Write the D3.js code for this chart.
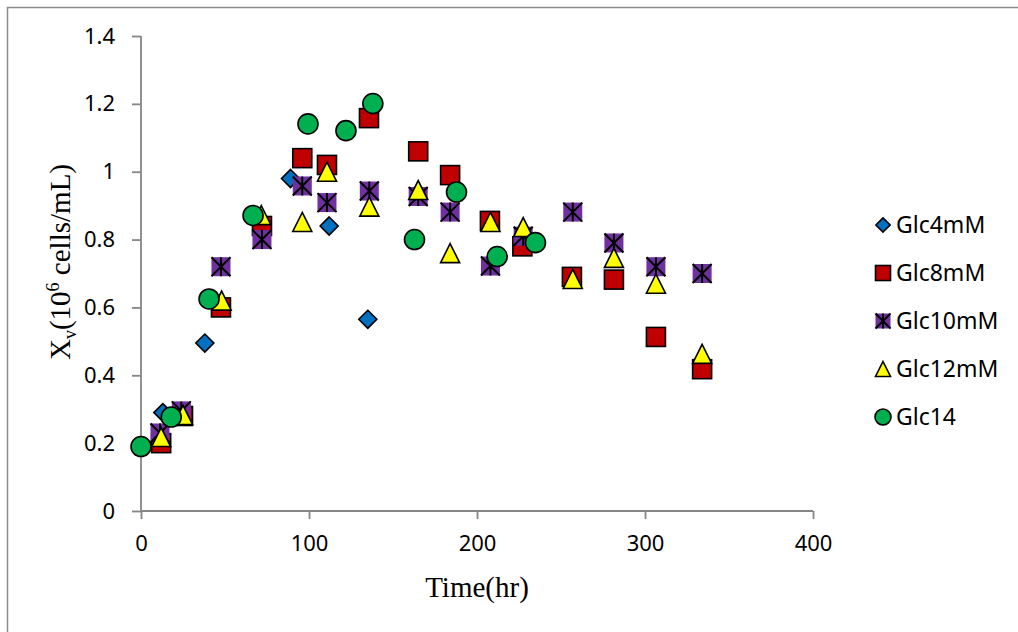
<!DOCTYPE html>
<html>
<head>
<meta charset="utf-8">
<script src="https://cdn.jsdelivr.net/npm/d3@7"></script>
<style>
    body { margin: 0; background: #fff; }
    svg { display: block; }
    .tick text { font-family: "Noto Sans", "Open Sans", sans-serif; font-size: 22px; fill: #000; }
    .legend text { font-family: "Noto Sans", "Open Sans", sans-serif; font-size: 23px; fill: #000; }
    .title { font-family: "Liberation Serif", "Times New Roman", serif; font-size: 29px; fill: #000; }
</style>
</head>
<body>
<div id="chart"></div>
<script>
// series names + marker look
var seriesNames = ["Glc4mM", "Glc8mM", "Glc10mM", "Glc12mM", "Glc14"];
var seriesShapes = ["diamond", "square", "star", "triangle", "circle"];
var seriesColors = ["#0070C0", "#C00000", "#7030A0", "#FFFF00", "#00B050"];

// time (hr) / Xv (10^6 cells/mL)
var glc4Time = [13, 38, 89, 112, 135];
var glc4Xv = [0.29, 0.495, 0.98, 0.84, 0.565];

var glc8Time = [12, 25, 47.6, 72, 96, 110.7, 135.7, 165, 184, 207.7, 227, 256.5, 281.5, 306.5, 334];
var glc8Xv = [0.20, 0.28, 0.60, 0.84, 1.04, 1.02, 1.158, 1.06, 0.99, 0.855, 0.78, 0.69, 0.682, 0.513, 0.418];

var glc10Time = [11.3, 24, 47.6, 72, 96, 110.7, 135.9, 165, 184, 208, 227.5, 257, 281.5, 306.5, 334];
var glc10Xv = [0.23, 0.295, 0.72, 0.80, 0.958, 0.909, 0.943, 0.927, 0.881, 0.722, 0.81, 0.881, 0.79, 0.72, 0.70];

var glc12Time = [12, 25, 48, 71.6, 96, 110.7, 135.9, 165, 184, 208, 227.5, 257, 281.5, 306.5, 334];
var glc12Xv = [0.218, 0.283, 0.62, 0.872, 0.852, 1.0, 0.897, 0.946, 0.76, 0.852, 0.837, 0.684, 0.746, 0.67, 0.463];

var glc14Time = [0, 18, 40.5, 66.7, 99.4, 122, 138, 162.8, 187.8, 212, 234.8];
var glc14Xv = [0.19, 0.277, 0.625, 0.871, 1.141, 1.121, 1.201, 0.80, 0.94, 0.75, 0.791];

var xTicks = [0, 100, 200, 300, 400];
var yTicks = [0, 0.2, 0.4, 0.6, 0.8, 1, 1.2, 1.4];

var seriesTime = [glc4Time, glc8Time, glc10Time, glc12Time, glc14Time];
var seriesXv = [glc4Xv, glc8Xv, glc10Xv, glc12Xv, glc14Xv];

var W = 1018, H = 632;
var plot = { left: 141, right: 813, top: 36, bottom: 511 };
var axisColor = "#868686";

var svg = d3.select("#chart").append("svg").attr("width", W).attr("height", H);

// outer frame (only left and top edges are in the picture)
svg.append("path")
    .attr("d", "M7.5," + H + "V7.5H" + W)
    .attr("fill", "none").attr("stroke", "#8c8c8c").attr("stroke-width", 1.5);

var x = d3.scaleLinear().domain([0, 400]).range([plot.left, plot.right]);
var y = d3.scaleLinear().domain([0, 1.4]).range([plot.bottom, plot.top]);

function fmtY(d) {
    return d === 0 ? "0" : String(+d.toFixed(1));
}

var gx = svg.append("g")
    .attr("transform", "translate(0," + plot.bottom + ")")
    .call(d3.axisBottom(x).tickValues(xTicks).tickSize(8).tickPadding(16).tickFormat(d3.format("d")));
var gy = svg.append("g")
    .attr("transform", "translate(" + plot.left + ",0)")
    .call(d3.axisLeft(y).tickValues(yTicks).tickSize(9).tickPadding(17).tickFormat(fmtY));

[gx, gy].forEach(function (g) {
    g.select(".domain").attr("stroke", axisColor).attr("stroke-width", 1.8);
    g.selectAll(".tick line").attr("stroke", axisColor).attr("stroke-width", 1.8);
});
// no outer tick stubs on the domain ends
gx.select(".domain").attr("d", "M" + plot.left + ",0H" + plot.right);
gy.select(".domain").attr("d", "M0," + plot.bottom + "V" + plot.top);

// marker drawing
function drawMarker(g, shape, color, s) {
    var h = s / 2;
    var sw = 1.6;
    if (shape === "square") {
        g.append("rect").attr("x", -h).attr("y", -h).attr("width", s).attr("height", s)
            .attr("fill", color).attr("stroke", "#000").attr("stroke-width", sw);
    } else if (shape === "diamond") {
        var d = h * 0.95;
        g.append("path").attr("d", "M0," + (-d) + "L" + d + ",0L0," + d + "L" + (-d) + ",0Z")
            .attr("fill", color).attr("stroke", "#000").attr("stroke-width", sw);
    } else if (shape === "triangle") {
        g.append("path").attr("d", "M0," + (-h) + "L" + h + "," + h + "L" + (-h) + "," + h + "Z")
            .attr("fill", color).attr("stroke", "#000").attr("stroke-width", sw).attr("stroke-linejoin", "miter");
    } else if (shape === "circle") {
        g.append("circle").attr("r", h + 0.5)
            .attr("fill", color).attr("stroke", "#000").attr("stroke-width", sw);
    } else if (shape === "star") {
        g.append("rect").attr("x", -h).attr("y", -h).attr("width", s).attr("height", s)
            .attr("fill", color).attr("stroke", "none");
        g.append("path").attr("d", "M0," + (-h) + "V" + h + "M" + (-h) + "," + (-h) + "L" + h + "," + h + "M" + h + "," + (-h) + "L" + (-h) + "," + h)
            .attr("stroke", "#000").attr("stroke-width", 2).attr("fill", "none");
    }
}

var markSize = 19;
seriesNames.forEach(function (name, i) {
    var pts = seriesTime[i].map(function (t, j) { return [t, seriesXv[i][j]]; });
    var g = svg.append("g").attr("class", "series");
    g.selectAll("g").data(pts).enter().append("g")
        .attr("transform", function (p) { return "translate(" + x(p[0]) + "," + y(p[1]) + ")"; })
        .each(function () { drawMarker(d3.select(this), seriesShapes[i], seriesColors[i], markSize); });
});

// legend
var legend = svg.append("g").attr("class", "legend").attr("transform", "translate(883,225)");
seriesNames.forEach(function (name, i) {
    var row = legend.append("g").attr("transform", "translate(0," + (i * 48) + ")");
    drawMarker(row.append("g"), seriesShapes[i], seriesColors[i], 15);
    row.append("text").attr("x", 13).attr("y", 8).text(name);
});

// axis titles
svg.append("text").attr("class", "title")
    .attr("x", (plot.left + plot.right) / 2).attr("y", 597)
    .attr("text-anchor", "middle").text("Time(hr)");

var yt = svg.append("text").attr("class", "title")
    .attr("transform", "translate(70,262) rotate(-90)")
    .attr("text-anchor", "middle");
yt.append("tspan").text("X");
yt.append("tspan").attr("font-size", "18px").attr("dy", 6).text("v");
yt.append("tspan").attr("dy", -6).text("(10");
yt.append("tspan").attr("font-size", "18px").attr("dy", -11).text("6");
yt.append("tspan").attr("dy", 11).text(" cells/mL)");
</script>
</body>
</html>
